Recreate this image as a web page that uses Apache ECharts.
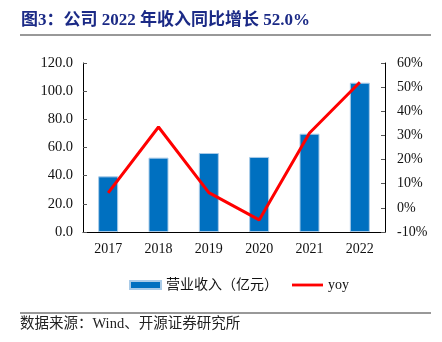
<!DOCTYPE html>
<html>
<head>
<meta charset="utf-8">
<script src="https://cdn.jsdelivr.net/npm/echarts@6/dist/echarts.min.js"></script>
<style>html,body{margin:0;padding:0;background:#fff;}#c{width:442px;height:342px;}</style>
</head>
<body>
<div id="c"></div>
<script>
var categories = ['2017', '2018', '2019', '2020', '2021', '2022'];
var revenue = [39.5, 52.8, 56.1, 53.3, 69.8, 106.0];
var yoy = [6.2, 33.5, 6.3, -5.0, 31.0, 52.0];
var leftTicks = [0, 120, 20];
var rightTicks = [-10, 60, 10];
var seriesNames = ['营业收入（亿元）', 'yoy'];
var titleText = '图3：公司 2022 年收入同比增长 52.0%';
var sourceText = '数据来源：Wind、开源证券研究所';

var serif = '"Liberation Serif", "Noto Sans CJK SC", serif';
var chart = echarts.init(document.getElementById('c'), null, {renderer: 'canvas'});
chart.setOption({
  animation: false,
  backgroundColor: '#fff',
  textStyle: {fontFamily: serif},
  grid: {left: 83, right: 57, top: 63, bottom: 110},
  graphic: [
    {type: 'text', left: 21, top: 12, style: {text: titleText, font: 'bold 17px ' + serif, fill: '#1b2a86'}},
    {type: 'line', shape: {x1: 20, y1: 35, x2: 431, y2: 35}, style: {stroke: '#333', lineWidth: 1}},
    {type: 'line', shape: {x1: 20, y1: 313, x2: 431, y2: 313}, style: {stroke: '#333', lineWidth: 1}},
    {type: 'text', left: 20, top: 317, style: {text: sourceText, font: '14.5px ' + serif, fill: '#222'}}
  ],
  legend: {
    left: 124, top: 273, itemGap: 14, itemWidth: 31, itemHeight: 8,
    textStyle: {fontFamily: serif, fontSize: 14, color: '#111'},
    data: [{name: seriesNames[0], icon: 'rect'}, {name: seriesNames[1], icon: 'path://M0,0L33,0L33,3L0,3Z'}]
  },
  xAxis: {
    type: 'category', data: categories,
    axisLine: {lineStyle: {color: '#000', width: 1}},
    axisTick: {inside: true, length: 4, lineStyle: {color: '#888'}},
    axisLabel: {fontFamily: serif, fontSize: 14, color: '#111', margin: 10}
  },
  yAxis: [
    {type: 'value', min: leftTicks[0], max: leftTicks[1], interval: leftTicks[2],
     axisLine: {show: true, lineStyle: {color: '#000'}},
     axisTick: {show: true, inside: true, length: 4, lineStyle: {color: '#555'}},
     splitLine: {show: false},
     axisLabel: {fontFamily: serif, fontSize: 14.5, color: '#111', margin: 10,
       formatter: function (v) { return v.toFixed(1); }}},
    {type: 'value', min: rightTicks[0], max: rightTicks[1], interval: rightTicks[2], position: 'right',
     axisLine: {show: true, lineStyle: {color: '#000'}},
     axisTick: {show: true, inside: true, length: 4, lineStyle: {color: '#555'}},
     splitLine: {show: false},
     axisLabel: {fontFamily: serif, fontSize: 14, color: '#111', margin: 12,
       formatter: function (v) { return v + '%'; }}}
  ],
  series: [
    {name: seriesNames[0], type: 'bar', data: revenue, barWidth: 20, yAxisIndex: 0,
     itemStyle: {color: '#0070c0', borderColor: '#a9cbe8', borderWidth: 1}},
    {name: seriesNames[1], type: 'line', data: yoy, yAxisIndex: 1, symbol: 'none',
     lineStyle: {color: '#ff0000', width: 3}, itemStyle: {color: '#ff0000'}}
  ]
});
</script>
</body>
</html>
